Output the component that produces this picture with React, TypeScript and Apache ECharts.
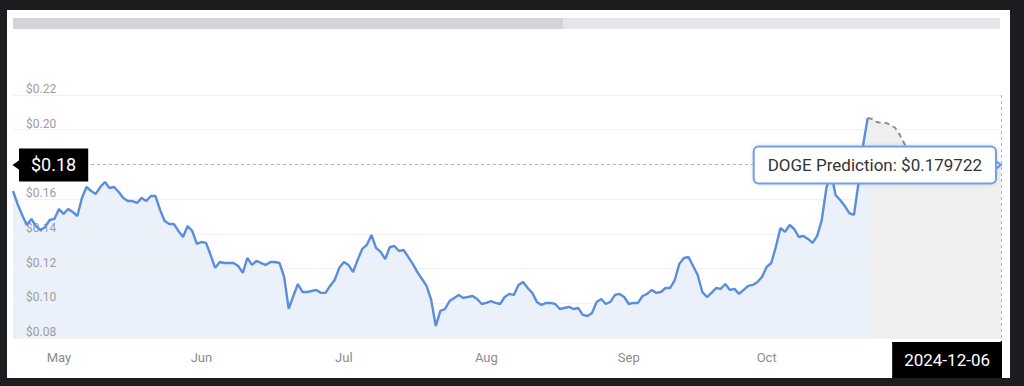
import React, { useEffect, useRef } from "react";
import * as echarts from "echarts";

// ---- data ----
const startDate = Date.UTC(2024, 4, 5); // 2024-05-05
const dayCount = 216; // through 2024-12-06
const dates: string[] = [];
for (let i = 0; i < dayCount; i++) {
  dates.push(new Date(startDate + i * 86400000).toISOString().slice(0, 10));
}

const historyValues: number[] = [
  0.1647, 0.1572, 0.1509, 0.1451, 0.1486, 0.1445, 0.1422, 0.1440, 0.1480, 0.1486,
  0.1543, 0.1515, 0.1543, 0.1526, 0.1503, 0.1607, 0.1670, 0.1647, 0.1630, 0.1670,
  0.1699, 0.1664, 0.1670, 0.1641, 0.1607, 0.1589, 0.1589, 0.1578, 0.1607, 0.1589,
  0.1618, 0.1618, 0.1538, 0.1474, 0.1457, 0.1457, 0.1417, 0.1382, 0.1445, 0.1417,
  0.1342, 0.1353, 0.1348, 0.1278, 0.1204, 0.1238, 0.1232, 0.1232, 0.1232, 0.1215,
  0.1175, 0.1261, 0.1221, 0.1244, 0.1232, 0.1221, 0.1238, 0.1238, 0.1232, 0.1152,
  0.0968, 0.1042, 0.1111, 0.1065, 0.1065, 0.1071, 0.1077, 0.1060, 0.1060, 0.1100,
  0.1134, 0.1204, 0.1238, 0.1221, 0.1180, 0.1250, 0.1313, 0.1336, 0.1394, 0.1319,
  0.1296, 0.1255, 0.1324, 0.1330, 0.1301, 0.1307, 0.1267, 0.1227, 0.1180, 0.1140,
  0.1100, 0.1019, 0.0869, 0.0956, 0.0967, 0.1013, 0.1031, 0.1048, 0.1031, 0.1036,
  0.1042, 0.1025, 0.0996, 0.1002, 0.1013, 0.1002, 0.0996, 0.1036, 0.1054, 0.1048,
  0.1106, 0.1123, 0.1088, 0.1060, 0.1008, 0.0990, 0.1002, 0.1002, 0.0996, 0.0967,
  0.0973, 0.0979, 0.0967, 0.0973, 0.0933, 0.0927, 0.0944, 0.1008, 0.1025, 0.0996,
  0.1008, 0.1048, 0.1054, 0.1036, 0.0996, 0.1002, 0.1002, 0.1042, 0.1054, 0.1077,
  0.1060, 0.1065, 0.1088, 0.1088, 0.1134, 0.1227, 0.1261, 0.1267, 0.1215, 0.1163,
  0.1065, 0.1036, 0.1060, 0.1088, 0.1083, 0.1111, 0.1077, 0.1083, 0.1054, 0.1077,
  0.1100, 0.1106, 0.1123, 0.1152, 0.1209, 0.1232, 0.1324, 0.1434, 0.1411, 0.1451,
  0.1428, 0.1382, 0.1388, 0.1371, 0.1348, 0.1388, 0.1480, 0.1664, 0.1756, 0.1624,
  0.1595, 0.1561, 0.1520, 0.1509, 0.1693, 0.1912, 0.2068,
];

const predictionValues: number[] = [
  0.2068, 0.2062, 0.2044, 0.2039, 0.2039, 0.2027, 0.2010, 0.1970, 0.1918, 0.1880,
  0.1862, 0.1850, 0.1841, 0.1836, 0.1829, 0.1822, 0.1818, 0.1824, 0.1815, 0.1808,
  0.1812, 0.1805, 0.1800, 0.1806, 0.1802, 0.1799, 0.1803, 0.1800, 0.1798, 0.179722,
];

const monthLabelDates: string[] = [
  "2024-05-15", "2024-06-15", "2024-07-16", "2024-08-16", "2024-09-16", "2024-10-16",
];
const monthNames: string[] = ["Jan", "Feb", "Mar", "Apr", "May", "Jun", "Jul", "Aug", "Sep", "Oct", "Nov", "Dec"];

const yTicks = { min: 0.08, max: 0.22, interval: 0.02 };
const coinName = "DOGE";

export default function App() {
  const ref = useRef<HTMLDivElement>(null);

  useEffect(() => {
    if (!ref.current) return;
    const chart = echarts.init(ref.current, undefined, { renderer: "svg" });
    const predStart = historyValues.length - 1;
    const histData = dates.map((_, i) => (i < historyValues.length ? historyValues[i] : null));
    const predData = dates.map((_, i) => (i >= predStart ? predictionValues[i - predStart] : null));
    const lastDate = dates[dates.length - 1];
    const lastValue = predictionValues[predictionValues.length - 1];
    const pointerLabel = "$" + lastValue.toFixed(2);
    const font = "Roboto";

    chart.setOption({
      animation: false,
      textStyle: { fontFamily: font },
      grid: { left: 13, right: 23, top: 95, bottom: 48 },
      graphic: [
        { type: "rect", shape: { x: 13, y: 18, width: 987, height: 11 }, style: { fill: "#e5e6ea" }, silent: true },
        { type: "rect", shape: { x: 13, y: 18, width: 550, height: 11 }, style: { fill: "#d3d4d8" }, silent: true },
      ],
      xAxis: {
        type: "category",
        data: dates,
        boundaryGap: false,
        axisLine: { show: false },
        axisTick: { show: false },
        splitLine: { show: false },
        axisLabel: {
          interval: (_i: number, v: string) => monthLabelDates.includes(v),
          formatter: (v: string) => monthNames[parseInt(v.slice(5, 7), 10) - 1],
          color: "#8c8c8c",
          fontSize: 13,
          margin: 13,
          fontFamily: font,
        },
      },
      yAxis: {
        type: "value",
        min: yTicks.min,
        max: yTicks.max,
        interval: yTicks.interval,
        z: 2,
        axisLine: { show: false },
        axisTick: { show: false },
        splitLine: { lineStyle: { color: "#f2f2f2", width: 1 } },
        axisLabel: {
          inside: true,
          margin: 13,
          verticalAlign: "bottom",
          color: "#9c9c9c",
          fontSize: 12,
          fontFamily: font,
          showMinLabel: true,
          showMaxLabel: true,
          formatter: (v: number) => {
            const s = "$" + v.toFixed(2);
            return s === pointerLabel ? "" : s;
          },
        },
      },
      series: [
        {
          name: "history area",
          type: "line",
          data: histData,
          showSymbol: false,
          symbol: "none",
          lineStyle: { width: 0, opacity: 0 },
          areaStyle: { color: "#eaf1fa", opacity: 1 },
          silent: true,
          z: 1,
        },
        {
          name: "prediction area",
          type: "line",
          data: predData,
          showSymbol: false,
          symbol: "none",
          lineStyle: { width: 0, opacity: 0 },
          areaStyle: { color: "#efeff0", opacity: 1 },
          silent: true,
          z: 1,
        },
        {
          name: "history",
          type: "line",
          data: histData,
          showSymbol: false,
          symbol: "none",
          lineStyle: { color: "#5a8dde", width: 2.4 },
          itemStyle: { color: "#5a8dde" },
          z: 3,
          markPoint: {
            silent: true,
            z: 10,
            data: [
              {
                coord: [dates[0], lastValue],
                symbol: "triangle",
                symbolSize: [10, 7],
                symbolRotate: 90,
                symbolOffset: [3, 0],
                itemStyle: { color: "#000" },
                label: { show: false },
              },
              {
                coord: [dates[0], lastValue],
                symbol: "circle",
                symbolSize: 0,
                label: {
                  show: true,
                  position: "right",
                  distance: 6,
                  formatter: pointerLabel,
                  color: "#fff",
                  backgroundColor: "#000",
                  fontSize: 18,
                  lineHeight: 19,
                  padding: [7, 12],
                  fontFamily: font,
                },
              },
            ],
          },
        },
        {
          name: "prediction",
          type: "line",
          data: predData,
          showSymbol: false,
          symbol: "none",
          lineStyle: { color: "#8e8e8e", width: 2, type: [5, 4] },
          itemStyle: { color: "#8e8e8e" },
          z: 3,
          markLine: {
            silent: true,
            symbol: "none",
            label: { show: false },
            lineStyle: { color: "#b5b5b5", width: 1, type: [3, 3] },
            data: [{ yAxis: lastValue }, { xAxis: lastDate }],
          },
          markPoint: {
            silent: true,
            z: 10,
            data: [
              {
                coord: [lastDate, lastValue],
                symbol: "triangle",
                symbolSize: [12, 8],
                symbolRotate: -90,
                symbolOffset: [-4, 0],
                itemStyle: { color: "#fff", borderColor: "#6e9fe8", borderWidth: 2 },
                label: { show: false },
              },
              {
                coord: [lastDate, lastValue],
                symbol: "circle",
                symbolSize: 0,
                label: {
                  show: true,
                  position: [-6, 0],
                  align: "right",
                  verticalAlign: "middle",
                  formatter: `${coinName} Prediction: $${lastValue}`,
                  color: "#333",
                  backgroundColor: "#fff",
                  borderColor: "#6e9fe8",
                  borderWidth: 2,
                  borderRadius: 4,
                  fontSize: 17,
                  lineHeight: 19,
                  padding: [8, 13],
                  fontFamily: font,
                  shadowColor: "rgba(0,0,0,0.12)",
                  shadowBlur: 4,
                },
              },
              {
                coord: [lastDate, yTicks.min],
                symbol: "path://M10,0 L10,8 L0,8 Z",
                symbolSize: [9, 7],
                symbolOffset: [-3.5, 6],
                itemStyle: { color: "#000" },
                label: { show: false },
              },
              {
                coord: [lastDate, yTicks.min],
                symbol: "circle",
                symbolSize: 0,
                label: {
                  show: true,
                  position: [1, 4],
                  align: "right",
                  verticalAlign: "top",
                  formatter: lastDate,
                  color: "#fff",
                  backgroundColor: "#000",
                  fontSize: 17,
                  lineHeight: 20,
                  padding: [8, 12],
                  fontFamily: font,
                },
              },
            ],
          },
        },
      ],
    });
    return () => chart.dispose();
  }, []);

  return (
    <div style={{ position: "fixed", left: 0, top: 0, width: 1024, height: 386, background: "#1c1d21" }}>
      <div style={{ position: "absolute", left: 7, top: 10, width: 1003, height: 368, background: "#ffffff" }} />
      <div ref={ref} style={{ position: "absolute", left: 0, top: 0, width: 1024, height: 386 }} />
    </div>
  );
}
